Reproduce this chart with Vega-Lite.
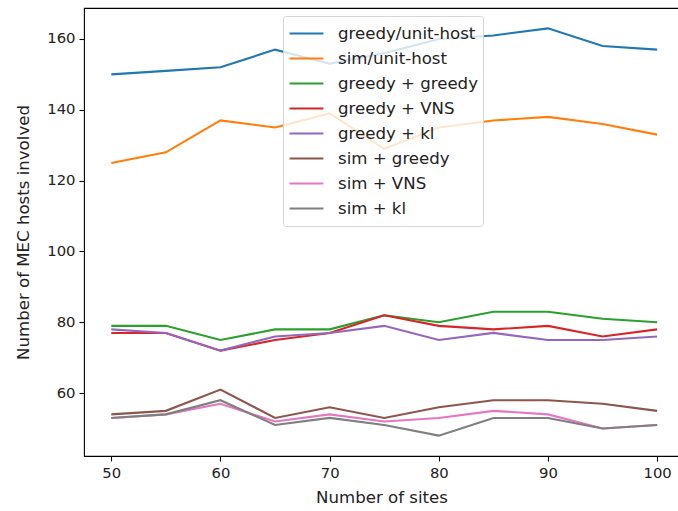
{
  "$schema": "https://vega.github.io/schema/vega-lite/v6.json",
  "width": 595,
  "height": 448,
  "autosize": {"type": "none"},
  "padding": {"left": 84, "top": 8, "right": 0, "bottom": 55},
  "config": {
    "font": "DejaVu Sans",
    "view": {"stroke": "black", "strokeWidth": 1.1},
    "axis": {"grid": false, "domain": false, "tickColor": "black", "tickSize": 5, "tickWidth": 1.1, "labelColor": "#222", "labelFontSize": 14.8, "titleFontSize": 16.6, "titleFontWeight": "normal", "titleColor": "#222", "labelFont": "DejaVu Sans", "titleFont": "DejaVu Sans"}
  },
  "data": {"values": [
    {"sites":50,"series":"greedy/unit-host","value":150},{"sites":55,"series":"greedy/unit-host","value":151},{"sites":60,"series":"greedy/unit-host","value":152},{"sites":65,"series":"greedy/unit-host","value":157},{"sites":70,"series":"greedy/unit-host","value":153},{"sites":75,"series":"greedy/unit-host","value":156},{"sites":80,"series":"greedy/unit-host","value":160},{"sites":85,"series":"greedy/unit-host","value":161},{"sites":90,"series":"greedy/unit-host","value":163},{"sites":95,"series":"greedy/unit-host","value":158},{"sites":100,"series":"greedy/unit-host","value":157},
    {"sites":50,"series":"sim/unit-host","value":125},{"sites":55,"series":"sim/unit-host","value":128},{"sites":60,"series":"sim/unit-host","value":137},{"sites":65,"series":"sim/unit-host","value":135},{"sites":70,"series":"sim/unit-host","value":139},{"sites":75,"series":"sim/unit-host","value":129},{"sites":80,"series":"sim/unit-host","value":135},{"sites":85,"series":"sim/unit-host","value":137},{"sites":90,"series":"sim/unit-host","value":138},{"sites":95,"series":"sim/unit-host","value":136},{"sites":100,"series":"sim/unit-host","value":133},
    {"sites":50,"series":"greedy + greedy","value":79},{"sites":55,"series":"greedy + greedy","value":79},{"sites":60,"series":"greedy + greedy","value":75},{"sites":65,"series":"greedy + greedy","value":78},{"sites":70,"series":"greedy + greedy","value":78},{"sites":75,"series":"greedy + greedy","value":82},{"sites":80,"series":"greedy + greedy","value":80},{"sites":85,"series":"greedy + greedy","value":83},{"sites":90,"series":"greedy + greedy","value":83},{"sites":95,"series":"greedy + greedy","value":81},{"sites":100,"series":"greedy + greedy","value":80},
    {"sites":50,"series":"greedy + VNS","value":77},{"sites":55,"series":"greedy + VNS","value":77},{"sites":60,"series":"greedy + VNS","value":72},{"sites":65,"series":"greedy + VNS","value":75},{"sites":70,"series":"greedy + VNS","value":77},{"sites":75,"series":"greedy + VNS","value":82},{"sites":80,"series":"greedy + VNS","value":79},{"sites":85,"series":"greedy + VNS","value":78},{"sites":90,"series":"greedy + VNS","value":79},{"sites":95,"series":"greedy + VNS","value":76},{"sites":100,"series":"greedy + VNS","value":78},
    {"sites":50,"series":"greedy + kl","value":78},{"sites":55,"series":"greedy + kl","value":77},{"sites":60,"series":"greedy + kl","value":72},{"sites":65,"series":"greedy + kl","value":76},{"sites":70,"series":"greedy + kl","value":77},{"sites":75,"series":"greedy + kl","value":79},{"sites":80,"series":"greedy + kl","value":75},{"sites":85,"series":"greedy + kl","value":77},{"sites":90,"series":"greedy + kl","value":75},{"sites":95,"series":"greedy + kl","value":75},{"sites":100,"series":"greedy + kl","value":76},
    {"sites":50,"series":"sim + greedy","value":54},{"sites":55,"series":"sim + greedy","value":55},{"sites":60,"series":"sim + greedy","value":61},{"sites":65,"series":"sim + greedy","value":53},{"sites":70,"series":"sim + greedy","value":56},{"sites":75,"series":"sim + greedy","value":53},{"sites":80,"series":"sim + greedy","value":56},{"sites":85,"series":"sim + greedy","value":58},{"sites":90,"series":"sim + greedy","value":58},{"sites":95,"series":"sim + greedy","value":57},{"sites":100,"series":"sim + greedy","value":55},
    {"sites":50,"series":"sim + VNS","value":53},{"sites":55,"series":"sim + VNS","value":54},{"sites":60,"series":"sim + VNS","value":57},{"sites":65,"series":"sim + VNS","value":52},{"sites":70,"series":"sim + VNS","value":54},{"sites":75,"series":"sim + VNS","value":52},{"sites":80,"series":"sim + VNS","value":53},{"sites":85,"series":"sim + VNS","value":55},{"sites":90,"series":"sim + VNS","value":54},{"sites":95,"series":"sim + VNS","value":50},{"sites":100,"series":"sim + VNS","value":51},
    {"sites":50,"series":"sim + kl","value":53},{"sites":55,"series":"sim + kl","value":54},{"sites":60,"series":"sim + kl","value":58},{"sites":65,"series":"sim + kl","value":51},{"sites":70,"series":"sim + kl","value":53},{"sites":75,"series":"sim + kl","value":51},{"sites":80,"series":"sim + kl","value":48},{"sites":85,"series":"sim + kl","value":53},{"sites":90,"series":"sim + kl","value":53},{"sites":95,"series":"sim + kl","value":50},{"sites":100,"series":"sim + kl","value":51}
  ]},
  "mark": {"type": "line", "strokeWidth": 2.1, "clip": true},
  "encoding": {
    "x": {"field": "sites", "type": "quantitative", "title": "Number of sites",
      "scale": {"domain": [47.5, 102], "nice": false, "zero": false},
      "axis": {"values": [50, 60, 70, 80, 90, 100], "labelPadding": 4, "titlePadding": 10}},
    "y": {"field": "value", "type": "quantitative", "title": "Number of MEC hosts involved",
      "scale": {"domain": [42.25, 168.75], "nice": false, "zero": false},
      "axis": {"values": [60, 80, 100, 120, 140, 160], "labelPadding": 4, "titlePadding": 15}},
    "color": {"field": "series", "type": "nominal",
      "scale": {"domain": ["greedy/unit-host", "sim/unit-host", "greedy + greedy", "greedy + VNS", "greedy + kl", "sim + greedy", "sim + VNS", "sim + kl"],
        "range": ["#1f77b4", "#ff7f0e", "#2ca02c", "#d62728", "#9467bd", "#8c564b", "#e377c2", "#7f7f7f"]},
      "legend": {"title": null, "orient": "none", "legendX": 199, "legendY": 8,
        "symbolType": "stroke", "symbolSize": 1150, "symbolStrokeWidth": 2.1,
        "labelFontSize": 16.6, "labelColor": "#222", "labelFont": "DejaVu Sans",
        "fillColor": "rgba(255,255,255,0.8)", "strokeColor": "#d5d5d5", "cornerRadius": 3,
        "padding": 5, "rowPadding": 0, "clipHeight": 25, "labelOffset": 13}}
  }
}
